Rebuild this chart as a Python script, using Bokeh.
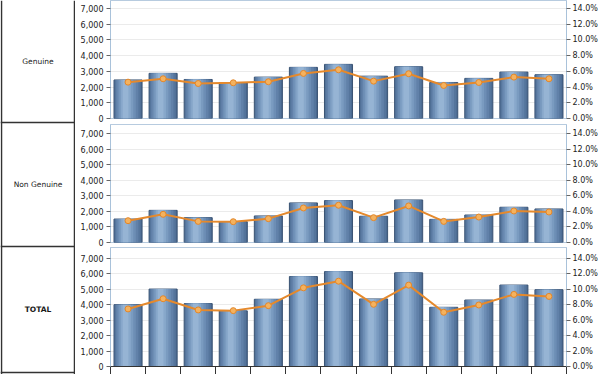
from bokeh.plotting import figure
from bokeh.layouts import column, row
from bokeh.models import ColumnDataSource, LinearAxis, Range1d, FixedTicker, NumeralTickFormatter, PrintfTickFormatter
from bokeh.transform import dodge
from bokeh.core.properties import value
from bokeh.embed import file_html
from bokeh.resources import INLINE

# ---- data ----
periods = list(range(1, 14))
genuine = [2450, 2870, 2480, 2270, 2630, 3250, 3440, 2690, 3290, 2290, 2550, 2950, 2780]
genuine_pct = [4.62, 5.05, 4.45, 4.54, 4.67, 5.73, 6.19, 4.75, 5.69, 4.20, 4.58, 5.26, 5.05]
non_genuine = [1510, 2070, 1600, 1340, 1710, 2550, 2700, 1690, 2740, 1490, 1770, 2270, 2160]
non_genuine_pct = [2.81, 3.63, 2.72, 2.68, 3.07, 4.45, 4.80, 3.20, 4.71, 2.72, 3.28, 4.06, 3.93]
total = [4000, 5010, 4070, 3600, 4350, 5820, 6140, 4370, 6060, 3830, 4300, 5270, 4970]
total_pct = [7.45, 8.77, 7.32, 7.23, 7.87, 10.18, 11.04, 8.05, 10.53, 7.02, 7.96, 9.33, 9.07]
row_names = ["Genuine", "Non Genuine", "TOTAL"]
left_ticks = [0, 1000, 2000, 3000, 4000, 5000, 6000, 7000]
right_ticks = [0, 2, 4, 6, 8, 10, 12, 14]

FONT = "DejaVu Sans"
LABEL_W = 75
CHART_W = 525
TOTAL_H = 374
row_bounds = [0, 122, 246, 372]   # layout of the label column (pixels)

# bar "cylinder" shading layers: (width, offset, colour)
layers = [
    (0.80, 0.0, "#4a6990"),
    (0.74, -0.01, "#55759c"),
    (0.64, -0.025, "#6181a9"),
    (0.52, -0.04, "#6d8eb5"),
    (0.40, -0.05, "#7a9bc0"),
    (0.28, -0.06, "#88a8cb"),
    (0.16, -0.07, "#96b4d4"),
]


def style_axis(ax, standoff):
    ax.axis_line_color = "#a9c2da"
    ax.major_tick_line_color = "#666"
    ax.major_tick_out = 4
    ax.major_tick_in = 0
    ax.minor_tick_line_color = None
    ax.major_label_text_font = FONT
    ax.major_label_text_font_size = "8px"
    ax.major_label_text_color = "#222"
    ax.major_label_standoff = standoff


def make_panel(vals, pcts, y_end, height, top, bottom, show_x):
    src = ColumnDataSource(dict(
        x=[i + 0.5 for i in range(len(periods))],
        period=periods, v=vals, pct=pcts))
    p = figure(width=CHART_W, height=height, output_backend="svg", toolbar_location=None,
               x_range=Range1d(0, len(periods)), y_range=Range1d(0, y_end),
               min_border_left=35, min_border_right=30, min_border_top=top,
               min_border_bottom=bottom)
    p.extra_y_ranges = {"pct": Range1d(0, y_end * 0.002)}
    p.outline_line_color = "#b7cbdf"
    p.border_fill_color = "white"
    p.xgrid.grid_line_color = None
    p.ygrid.grid_line_color = "#ebebeb"
    p.ygrid.ticker = FixedTicker(ticks=left_ticks)

    ya = p.yaxis[0]
    ya.ticker = FixedTicker(ticks=left_ticks)
    ya.formatter = NumeralTickFormatter(format="0,0")
    style_axis(ya, 3)

    ra = LinearAxis(y_range_name="pct", ticker=FixedTicker(ticks=right_ticks),
                    formatter=PrintfTickFormatter(format="%.1f%%"))
    style_axis(ra, 2)
    p.add_layout(ra, "right")

    xa = p.xaxis[0]
    if show_x:
        bounds = list(range(len(periods) + 1))
        xa.ticker = FixedTicker(ticks=bounds)
        xa.major_label_overrides = {b: "" for b in bounds}
        xa.major_label_standoff = 0
        xa.axis_line_color = "#333"
        xa.major_tick_line_color = "#333"
        xa.major_tick_out = 8
        xa.major_tick_in = 0
        xa.minor_tick_line_color = None
    else:
        xa.visible = False

    for i, (w, off, col) in enumerate(layers):
        if i == 0:
            p.vbar(x="x", top="v", bottom=0, width=w, source=src, fill_color=col,
                   line_color="#3a5373", line_width=1)
        else:
            p.vbar(x=dodge("x", off), top="v", bottom=0, width=w, source=src,
                   fill_color=col, line_color=None)

    p.line(x="x", y="pct", source=src, y_range_name="pct", line_color="#e5892c", line_width=2)
    p.scatter(x="x", y="pct", source=src, y_range_name="pct", size=6,
              fill_color="#f4b25f", line_color="#e3872a", line_width=1)
    return p


# label column: one figure in pixel units
lp = figure(width=LABEL_W, height=TOTAL_H, output_backend="svg", toolbar_location=None,
            x_range=Range1d(0, LABEL_W), y_range=Range1d(TOTAL_H, 0),
            min_border_left=0, min_border_right=0, min_border_top=0, min_border_bottom=0)
lp.axis.visible = False
lp.xgrid.grid_line_color = None
lp.ygrid.ticker = FixedTicker(ticks=row_bounds[1:])
lp.ygrid.grid_line_color = "#333"
lp.ygrid.grid_line_width = 1.5
lp.outline_line_color = None
lp.vspan(x=[1, LABEL_W - 1], line_color="#333", line_width=1.5)
centers = [(row_bounds[i] + row_bounds[i + 1]) / 2 for i in range(3)]
lp.text(x=[LABEL_W / 2] * 3, y=centers, text=row_names, text_align="center",
        text_baseline="middle", text_font=value(FONT), text_font_size="7.5px",
        text_color="#1a1a1a",
        text_font_style=["normal", "normal", "bold"])

p1 = make_panel(genuine, genuine_pct, 7500, 124, 0, 6, False)
p2 = make_panel(non_genuine, non_genuine_pct, 7600, 123, 0, 5, False)
p3 = make_panel(total, total_pct, 7700, 127, 0, 7, True)

layout = row(lp, column(p1, p2, p3))

open("out.html", "w").write(file_html(layout, INLINE))
